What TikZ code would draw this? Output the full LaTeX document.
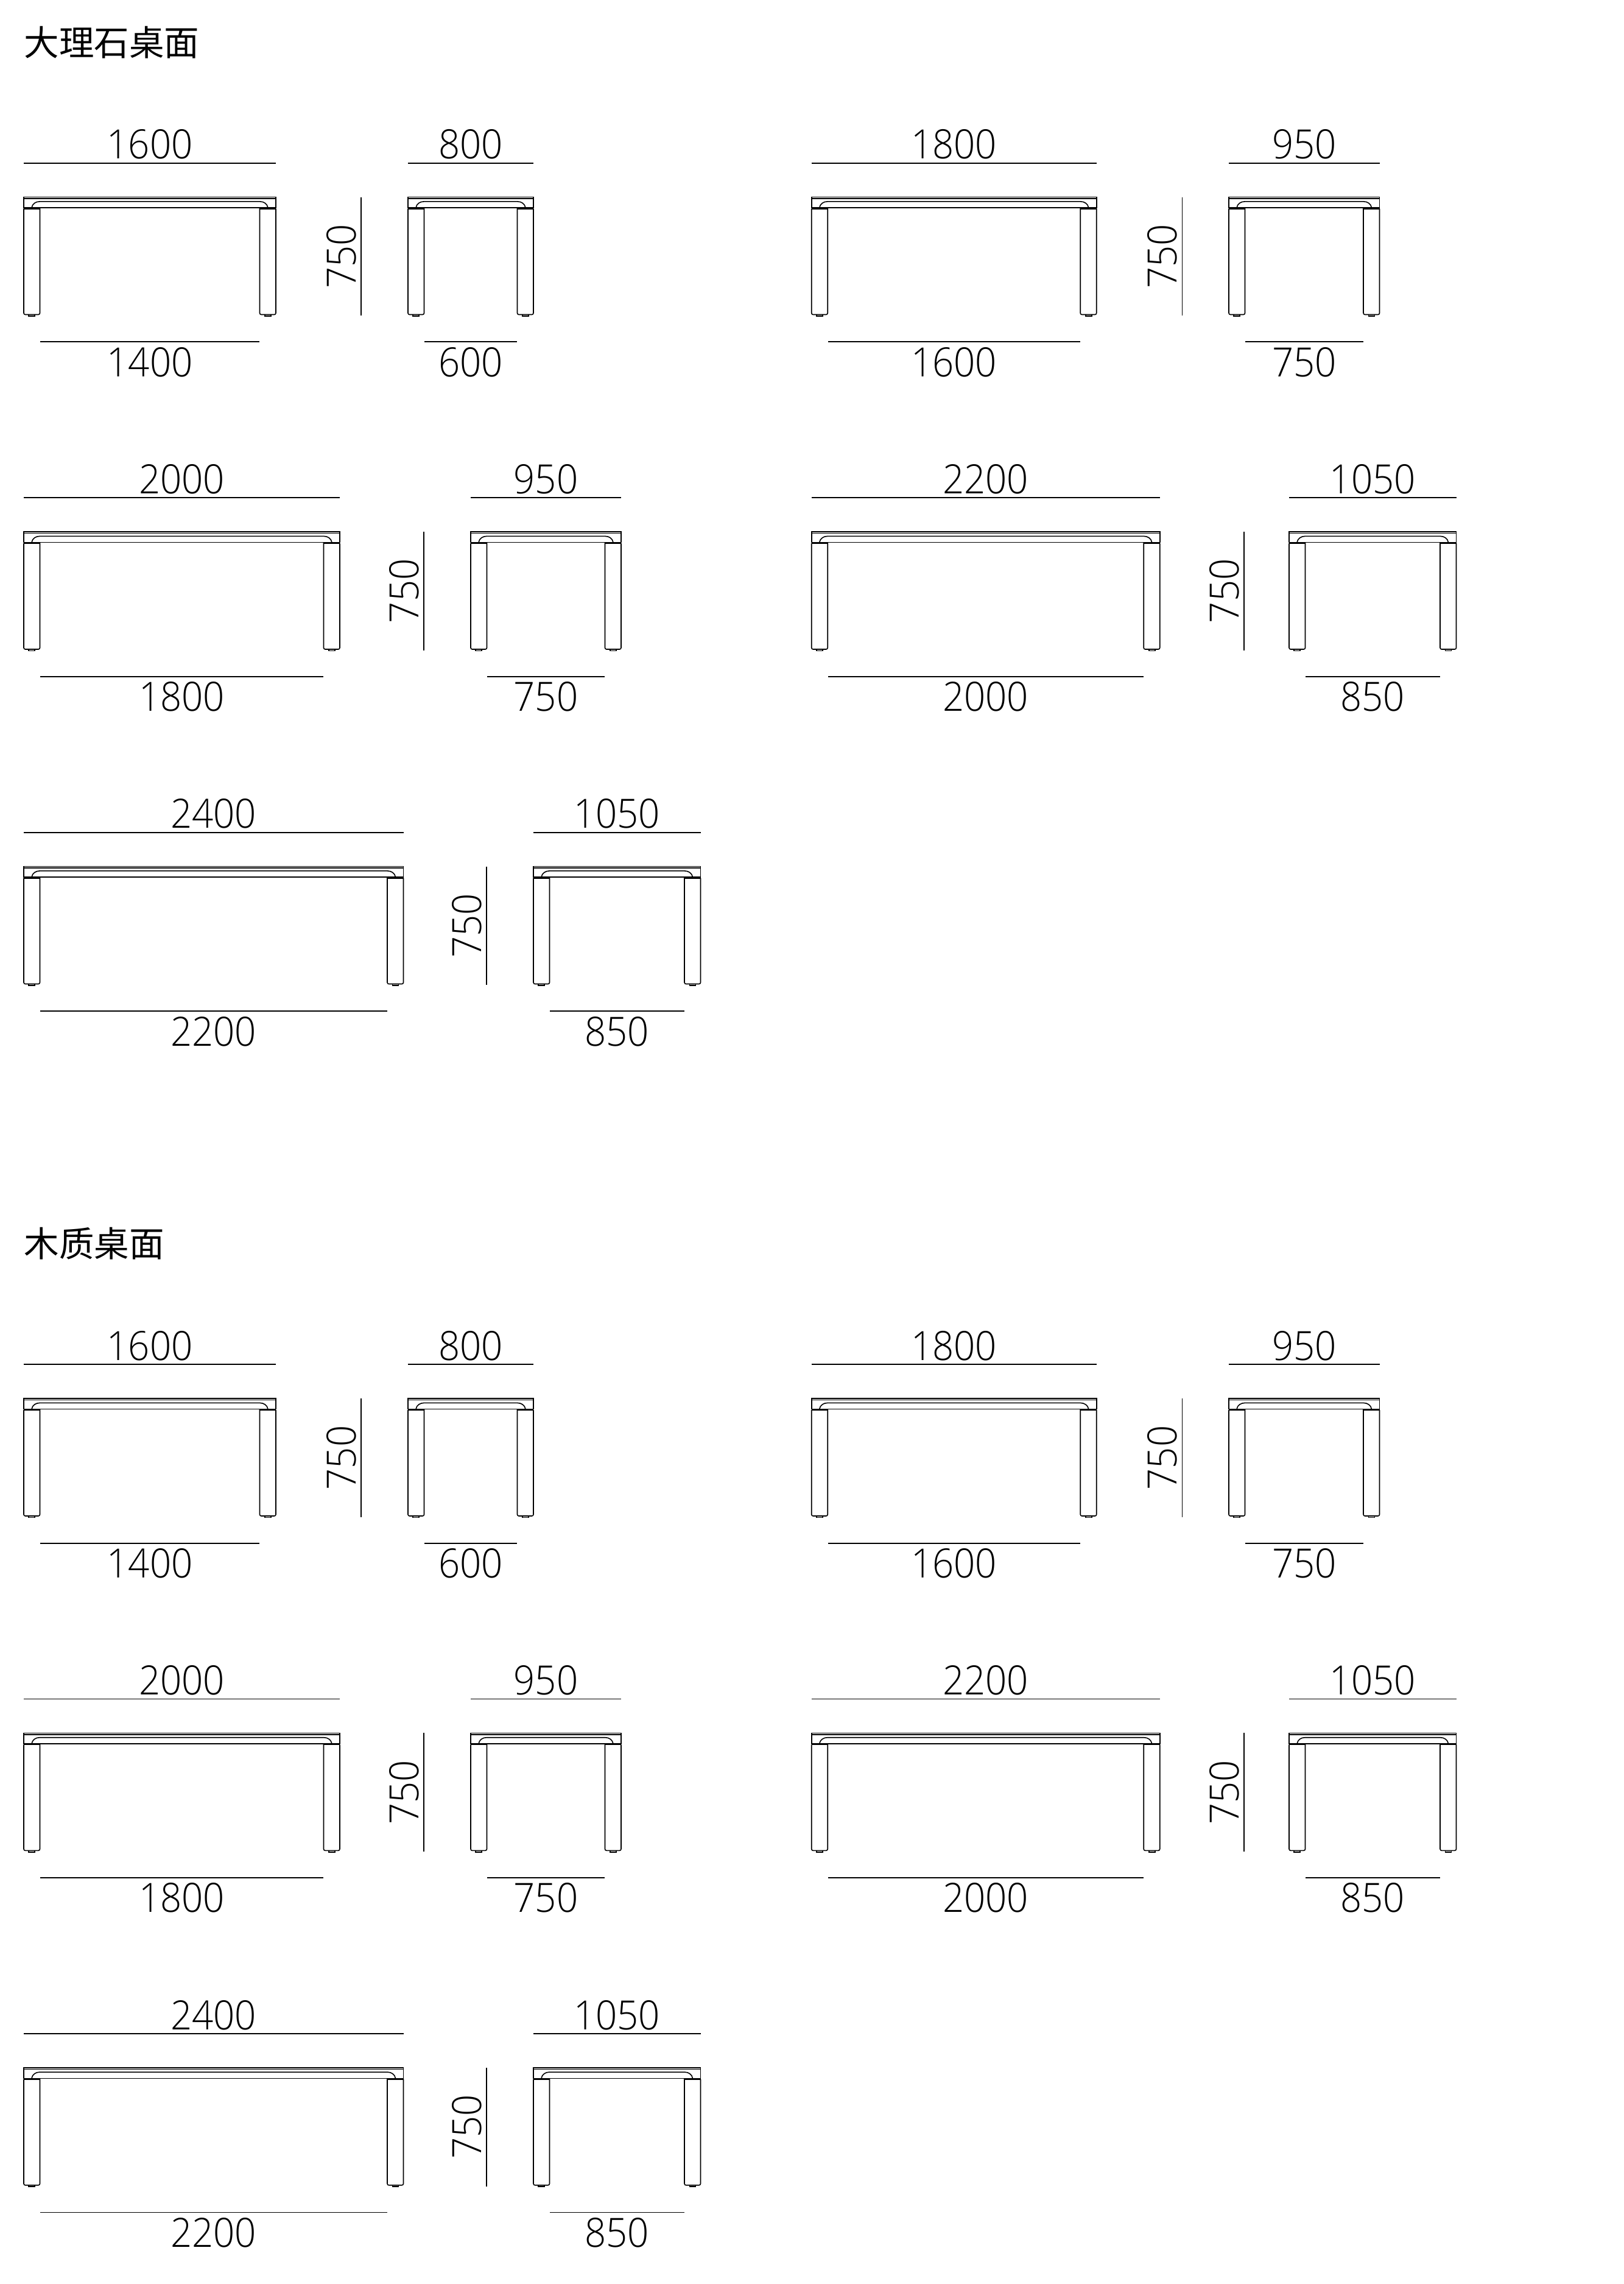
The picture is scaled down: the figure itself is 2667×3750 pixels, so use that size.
\documentclass[tikz,border=0pt]{standalone}
\usepackage{fontspec}
\setmainfont{Open Sans}[UprightFont=* Light,FakeStretch=0.93]
\newfontfamily\cjk{Noto Sans CJK SC}
\usetikzlibrary{positioning}

\tikzset{
  outline/.style={line width=0.38pt,black},
  dimline/.style={line width=0.42pt,black},
  dimtop/.style={above,inner sep=1.3pt,font=\fontsize{15.9}{18}\selectfont},
  dimbottom/.style={below,inner sep=1.9pt,font=\fontsize{15.9}{18}\selectfont},
  dimheight/.style={rotate=90,anchor=south,inner sep=1.7pt,font=\fontsize{15.9}{18}\selectfont},
  heading/.style={anchor=west,inner sep=0pt,font=\cjk\fontsize{13.8}{16}\selectfont}
}

% name, left, top, width, top label, bottom label
\newcommand{\deskview}[6]{%
  \begin{scope}[shift={(#2,#3)}]
    \coordinate (#1-tl) at (0,-55.8);
    \coordinate (#1-tr) at (#4,-55.8);
    \coordinate (#1-bl) at (27,237.7);
    \coordinate (#1-br) at (#4-27,237.7);
    \draw[dimline] (#1-tl) -- node[dimtop] (#1-toplabel) {#5} (#1-tr);
    \draw[dimline] (#1-bl) -- node[dimbottom] (#1-bottomlabel) {#6} (#1-br);
    %top and frame
    \draw[outline] (0,0) rectangle (#4,17.6);
    \draw[outline] (0,2.6) -- (#4,2.6);
    \draw[outline] (13,17.6) .. controls (14,11) and (20,7.4) .. (26,7.4)
      -- (#4-26,7.4) .. controls (#4-20,7.4) and (#4-14,11) .. (#4-13,17.6);
    %legs
    \draw[outline,rounded corners=0.6pt] (0,19.2) -- (0,193) -- (26.5,193) -- (26.5,17.6);
    \draw[outline,rounded corners=0.6pt] (#4-26.5,17.6) -- (#4-26.5,193) -- (#4,193) -- (#4,19.2);
    \draw[outline] (0,19.2) -- (26.5,19.2) (#4-26.5,19.2) -- (#4,19.2);
    %feet
    \draw[outline] (8,193) -- (8,195.4) -- (18,195.4) -- (18,193);
    \draw[outline] (#4-18,193) -- (#4-18,195.4) -- (#4-8,195.4) -- (#4-8,193);
  \end{scope}
}
% name, x, top
\newcommand{\deskheight}[3]{%
  \coordinate (#1-a) at (#2,#3);
  \coordinate (#1-b) at (#2,#3+194.8);
  \draw[dimline] (#1-a) -- node[dimheight] (#1-label) {750} (#1-b);
}

\begin{document}
\begin{tikzpicture}[x=0.24pt,y=-0.24pt]
  \useasboundingbox (0,0) rectangle (2667,3750);

  %marble
  \node[heading] (marble) at (39,70) {大理石桌面};
  \deskview{m1f}{39}{323.5}{414}{1600}{1400}
  \deskheight{m1h}{593}{323.5}
  \deskview{m1s}{670}{323.5}{206}{800}{600}
  \deskview{m2f}{1332.7}{323.5}{468}{1800}{1600}
  \deskheight{m2h}{1941.5}{323.5}
  \deskview{m2s}{2018}{323.5}{247.5}{950}{750}

  \deskview{m3f}{39}{873}{519}{2000}{1800}
  \deskheight{m3h}{696}{873}
  \deskview{m3s}{773}{873}{247}{950}{750}
  \deskview{m4f}{1332.7}{873}{572}{2200}{2000}
  \deskheight{m4h}{2043}{873}
  \deskview{m4s}{2117}{873}{274.5}{1050}{850}

  \deskview{m5f}{39}{1422.5}{623.5}{2400}{2200}
  \deskheight{m5h}{799}{1422.5}
  \deskview{m5s}{876}{1422.5}{274.5}{1050}{850}

  %wood
  \node[heading] (wood) at (39,2041.5) {木质桌面};
  \deskview{w1f}{39}{2296}{414}{1600}{1400}
  \deskheight{w1h}{593}{2296}
  \deskview{w1s}{670}{2296}{206}{800}{600}
  \deskview{w2f}{1332.7}{2296}{468}{1800}{1600}
  \deskheight{w2h}{1941.5}{2296}
  \deskview{w2s}{2018}{2296}{247.5}{950}{750}

  \deskview{w3f}{39}{2845.3}{519}{2000}{1800}
  \deskheight{w3h}{696}{2845.3}
  \deskview{w3s}{773}{2845.3}{247}{950}{750}
  \deskview{w4f}{1332.7}{2845.3}{572}{2200}{2000}
  \deskheight{w4h}{2043}{2845.3}
  \deskview{w4s}{2117}{2845.3}{274.5}{1050}{850}

  \deskview{w5f}{39}{3394.7}{623.5}{2400}{2200}
  \deskheight{w5h}{799}{3394.7}
  \deskview{w5s}{876}{3394.7}{274.5}{1050}{850}
\end{tikzpicture}
\end{document}
